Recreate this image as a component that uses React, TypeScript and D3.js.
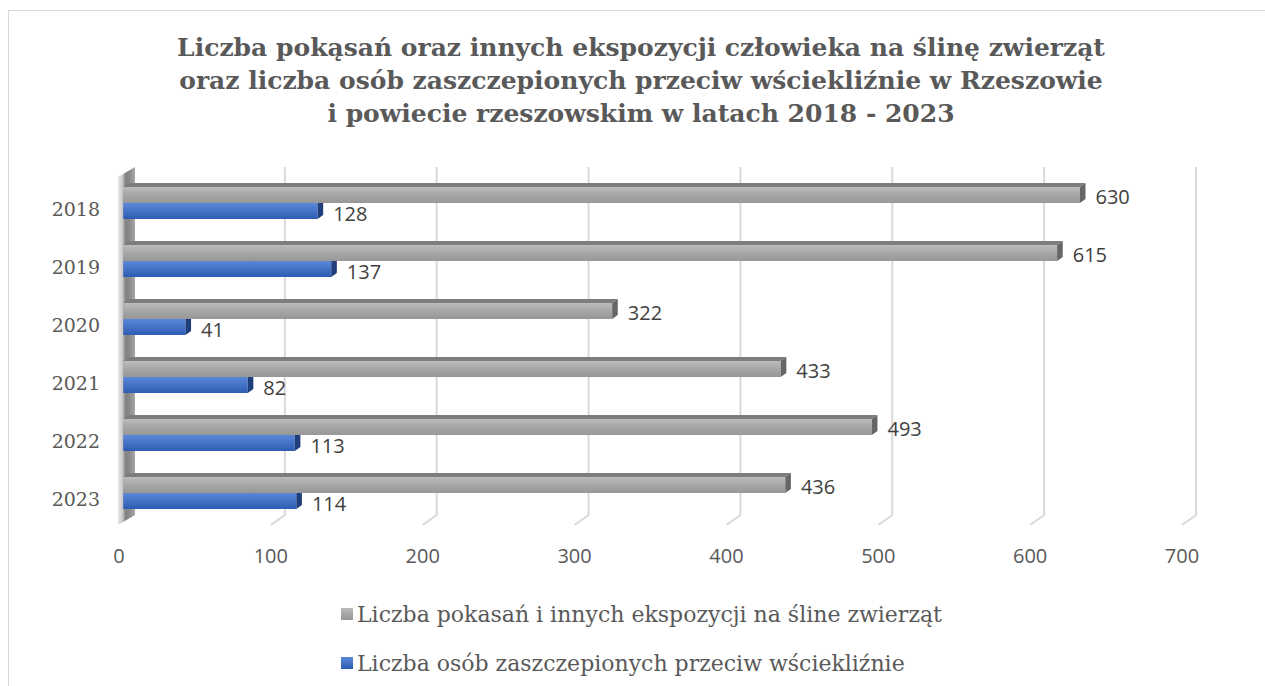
import React from "react";
import * as d3 from "d3";

const years = ["2018", "2019", "2020", "2021", "2022", "2023"];
const bites = [630, 615, 322, 433, 493, 436];
const vaccinated = [128, 137, 41, 82, 113, 114];
const ticks = [0, 100, 200, 300, 400, 500, 600, 700];
const titleLines = [
  "Liczba pokąsań oraz innych ekspozycji człowieka na ślinę zwierząt",
  "oraz liczba osób zaszczepionych przeciw wściekliźnie w Rzeszowie",
  "i powiecie rzeszowskim w latach 2018 - 2023",
];
const legendLabels = [
  "Liczba pokasań i innych ekspozycji na śline zwierząt",
  "Liczba osób zaszczepionych przeciw wściekliźnie",
];

const W = 1265;
const H = 686;
const DX = 14; // depth offset x (front->back)
const DY = -10; // depth offset y
const yTopFront = 177;
const yBotFront = 525;

const x = d3.scaleLinear().domain([0, 700]).range([119, 1182]);
const yb = d3.scaleBand().domain(years).range([yTopFront, yBotFront]);

const Z0 = 0.3;
const Z1 = 0.7;
const BAR_H = 16;

function proj(px: number, py: number, z: number): [number, number] {
  return [px + DX * z, py + DY * z];
}

function Bar({ v, top, kind }: { v: number; top: number; kind: string }) {
  const x0 = x(0);
  const x1 = x(v);
  const bot = top + BAR_H;
  const f = (px: number, py: number, z: number) => proj(px, py, z).join(",");
  const front = [f(x0, top, Z0), f(x1, top, Z0), f(x1, bot, Z0), f(x0, bot, Z0)].join(" ");
  const topFace = [f(x0, top, Z0), f(x1, top, Z0), f(x1, top, Z1), f(x0, top, Z1)].join(" ");
  const cap = [f(x1, top, Z0), f(x1, top, Z1), f(x1, bot, Z1), f(x1, bot, Z0)].join(" ");
  const grey = kind === "grey";
  return (
    <g>
      <polygon points={topFace} fill={grey ? "#7d7d7d" : "#3a63ad"} />
      <polygon points={front} fill={grey ? "url(#gGrey)" : "url(#gBlue)"} />
      <polygon points={cap} fill={grey ? "#666666" : "#1f3e7c"} />
    </g>
  );
}

export default function App() {
  const serif = "'DejaVu Serif', serif";
  const sans = "'Open Sans', sans-serif";
  const labelRows = years.map((yr, i) => {
    const y0 = yb(yr) as number;
    const greyTop = y0 + 13;
    const blueTop = greyTop + BAR_H;
    return { yr, i, y0, greyTop, blueTop };
  });
  return (
    <svg
      width={W}
      height={H}
      style={{ position: "absolute", left: 0, top: 0, background: "#fff" }}
    >
      <defs>
        <linearGradient id="gGrey" x1="0" y1="0" x2="0" y2="1">
          <stop offset="0" stopColor="#bcbcbc" />
          <stop offset="0.5" stopColor="#a6a6a6" />
          <stop offset="1" stopColor="#979797" />
        </linearGradient>
        <linearGradient id="gBlue" x1="0" y1="0" x2="0" y2="1">
          <stop offset="0" stopColor="#5b87d8" />
          <stop offset="0.5" stopColor="#4472c4" />
          <stop offset="1" stopColor="#2e5cb2" />
        </linearGradient>
        <linearGradient id="gWall" x1="0" y1="0" x2="1" y2="0">
          <stop offset="0" stopColor="#e6e6e6" />
          <stop offset="0.25" stopColor="#cccccc" />
          <stop offset="0.45" stopColor="#808080" />
          <stop offset="0.7" stopColor="#8c8c8c" />
          <stop offset="1" stopColor="#a8a8a8" />
        </linearGradient>
      </defs>
      <rect x={8.5} y={10.5} width={1262} height={690} fill="#fff" stroke="#d9d9d9" strokeWidth={1} />

      {titleLines.map((t, i) => (
        <text
          key={i}
          x={641}
          y={56 + i * 33}
          textAnchor="middle"
          fontFamily={serif}
          fontWeight="bold"
          fontSize={25}
          fill="#595959"
        >
          {t}
        </text>
      ))}

      {/* gridlines */}
      {ticks.filter((t) => t > 0).map((t) => {
        const [bx, by0] = proj(x(t), yTopFront, 1);
        const [, by1] = proj(x(t), yBotFront, 1);
        return (
          <polyline
            key={t}
            points={`${bx},${by0} ${bx},${by1} ${x(t)},${yBotFront}`}
            fill="none"
            stroke="#d9d9d9"
            strokeWidth={2}
          />
        );
      })}

      {/* left wall */}
      <polygon
        points={[
          [x(0) - 1, yTopFront],
          proj(x(0) + 2, yTopFront, 1),
          proj(x(0) + 2, yBotFront, 1),
          [x(0) - 1, yBotFront],
        ]
          .map((p) => p.join(","))
          .join(" ")}
        fill="url(#gWall)"
      />

      {/* bars */}
      {labelRows.map((r) => (
        <g key={r.yr}>
          <Bar v={vaccinated[r.i]} top={r.blueTop} kind="blue" />
          <Bar v={bites[r.i]} top={r.greyTop} kind="grey" />
        </g>
      ))}

      {/* data labels */}
      {labelRows.map((r) => {
        const gx = proj(x(bites[r.i]), 0, Z1)[0] + 10;
        const bx = proj(x(vaccinated[r.i]), 0, Z1)[0] + 10;
        const gy = r.greyTop + BAR_H / 2 + DY * Z0 + 1;
        const by = r.blueTop + BAR_H / 2 + DY * Z0 + 2;
        return (
          <g key={r.yr} fontFamily={sans} fontSize={20} fill="#404040">
            <text x={gx} y={gy} dominantBaseline="central">{bites[r.i]}</text>
            <text x={bx} y={by} dominantBaseline="central">{vaccinated[r.i]}</text>
          </g>
        );
      })}

      {/* category labels */}
      {labelRows.map((r) => (
        <text
          key={r.yr}
          x={100}
          y={r.y0 + 32}
          textAnchor="end"
          dominantBaseline="central"
          fontFamily={serif}
          fontSize={19}
          fill="#595959"
        >
          {r.yr}
        </text>
      ))}

      {/* x tick labels */}
      {ticks.map((t) => (
        <text
          key={t}
          x={x(t)}
          y={555}
          textAnchor="middle"
          dominantBaseline="central"
          fontFamily={sans}
          fontSize={20}
          fill="#595959"
        >
          {t}
        </text>
      ))}

      {/* legend */}
      {legendLabels.map((l, i) => (
        <g key={i} transform={`translate(341,${608 + i * 49})`}>
          <rect width={12} height={12} fill={i === 0 ? "url(#gGrey)" : "url(#gBlue)"} />
          <text x={16} y={6} dominantBaseline="central" fontFamily={serif} fontSize={22} fill="#595959">
            {l}
          </text>
        </g>
      ))}
    </svg>
  );
}
